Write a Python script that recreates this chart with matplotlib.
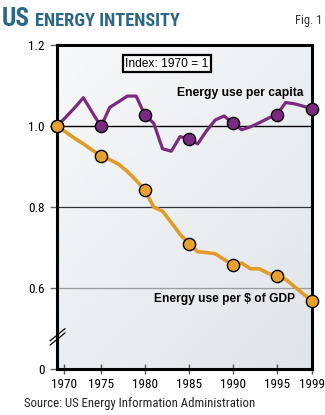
import os
import numpy as np
import matplotlib
matplotlib.use('Agg')
import matplotlib.pyplot as plt
from matplotlib import font_manager as fm

# data (index 1970 = 1)
years = list(range(1970, 2000))
per_capita = [1.000, 1.022, 1.045, 1.070, 1.034, 0.999, 1.046, 1.060, 1.074, 1.074,
              1.027, 1.007, 0.944, 0.938, 0.974, 0.968, 0.956, 0.988, 1.015, 1.025,
              1.007, 0.991, 0.998, 1.008, 1.019, 1.028, 1.058, 1.055, 1.049, 1.043]
per_gdp = [1.000, 0.985, 0.970, 0.956, 0.941, 0.926, 0.917, 0.906, 0.888, 0.866,
           0.842, 0.800, 0.790, 0.762, 0.733, 0.710, 0.690, 0.688, 0.685, 0.671,
           0.658, 0.662, 0.648, 0.648, 0.637, 0.629, 0.622, 0.604, 0.586, 0.569]
marker_years = [1970, 1975, 1980, 1985, 1990, 1995, 1999]
xtick_labels = ['1970', '1975', '1980', '1985', '1990', '1995', '1999']
ytick_values = [0.4, 0.6, 0.8, 1.0, 1.2]
ytick_labels = ['0', '0.6', '0.8', '1.0', '1.2']

purple = '#7B2A82'
orange = '#E29B27'
teal = '#2A6888'

# look for a narrow / condensed sans among installed files
fonts = fm.fontManager.ttflist
by_file = {os.path.basename(f.fname): f.fname for f in fonts}


def pick(files, fallback):
    for n in files:
        if n in by_file:
            return fm.FontProperties(fname=by_file[n])
    return fm.FontProperties(**fallback)


narrow = pick(['LiberationSansNarrow-Regular.ttf', 'RobotoCondensed-Regular.ttf',
               'NotoSans-Condensed.ttf', 'DejaVuSansCondensed.ttf'],
              dict(family='Liberation Sans'))
narrow_bold = pick(['LiberationSansNarrow-Bold.ttf', 'RobotoCondensed-Bold.ttf',
                    'NotoSans-CondensedBold.ttf', 'DejaVuSansCondensed-Bold.ttf'],
                   dict(family='Liberation Sans', weight='bold'))
bold = fm.FontProperties(family='Liberation Sans', weight='bold')
plain = fm.FontProperties(family='Liberation Sans')


def fp(base, size):
    p = base.copy()
    p.set_size(size)
    return p


fig = plt.figure(figsize=(3.25, 4.15), dpi=100)
ax = fig.add_axes([0.1754, 0.1101, 0.7846, 0.7815])
renderer = fig.canvas.get_renderer()


def fit_width(t, px):
    w = t.get_window_extent(renderer).width
    t.set_fontsize(t.get_fontsize() * px / w)


# soft grey panel gradient
gx, gy = np.meshgrid(np.linspace(0, 1, 64), np.linspace(0, 1, 64))
shade = 0.55 * gy + 0.45 * gx
c0 = np.array([0.970, 0.975, 0.980])
c1 = np.array([0.880, 0.898, 0.915])
img = c0 + (c1 - c0) * shade[..., None]
ax.imshow(img, extent=[0, 1, 0, 1], transform=ax.transAxes, aspect='auto',
          zorder=0, origin='upper')

ax.set_xlim(1970, 1999)
ax.set_ylim(0.4, 1.2)

ax.axhline(1.0, color='black', lw=1.0, zorder=1)
ax.axhline(0.8, color='#333333', lw=0.9, zorder=1)
ax.axhline(0.6, color='#9a9a9a', lw=0.9, zorder=1)

ax.plot(years, per_capita, color=purple, lw=2.3, zorder=3)
ax.plot(years, per_gdp, color=orange, lw=2.6, zorder=3)

mk_cap = [per_capita[years.index(y)] for y in marker_years]
mk_gdp = [per_gdp[years.index(y)] for y in marker_years]
ax.plot(marker_years, mk_cap, 'o', ms=8.8, mfc=purple, mec='black', mew=1.0,
        zorder=5, clip_on=False)
ax.plot(marker_years, mk_gdp, 'o', ms=8.8, mfc='#E8A22C', mec='black', mew=1.0,
        zorder=5, clip_on=False)

for s in ax.spines.values():
    s.set_linewidth(2.2)
    s.set_color('black')
    s.set_zorder(4)

ax.set_yticks(ytick_values)
ax.set_yticklabels(ytick_labels, fontproperties=fp(narrow, 9.5))
ax.tick_params(axis='y', direction='out', length=5, width=1, color='#666666', pad=4)

xt = [1970.8, 1975, 1980, 1985, 1990, 1995, 1999]
ax.set_xticks(xt)
ax.set_xticklabels(xtick_labels, fontproperties=fp(narrow, 9.5))
ax.tick_params(axis='x', direction='inout', length=7, width=1, color='#555555', pad=3)

# axis break marks
for dy in (0.0, 0.013):
    ax.plot([-0.027, 0.031], [0.075 + dy, 0.112 + dy], transform=ax.transAxes,
            color='black', lw=0.9, clip_on=False, zorder=6)

t = ax.text(1982.5, 1.154, 'Index: 1970 = 1', ha='center', va='center',
            fontproperties=fp(plain, 8.8), zorder=6,
            bbox=dict(boxstyle='square,pad=0.22', fc='white', ec='black', lw=1.6))
fit_width(t, 83)

t = ax.text(1998.0, 1.082, 'Energy use per capita', ha='right', va='center',
            fontproperties=fp(bold, 8), zorder=6)
fit_width(t, 126)
t = ax.text(1997.1, 0.573, 'Energy use per $ of GDP', ha='right', va='center',
            fontproperties=fp(bold, 8), zorder=6)
fit_width(t, 142)

t = fig.text(2 / 325, 1 - 26 / 415, 'US', ha='left', va='baseline',
             fontproperties=fp(narrow_bold, 20), color=teal)
fit_width(t, 28)
t = fig.text(35 / 325, 1 - 26 / 415, 'ENERGY INTENSITY', ha='left', va='baseline',
             fontproperties=fp(narrow_bold, 14), color=teal)
fit_width(t, 146)
fig.text(322 / 325, 1 - 24 / 415, 'Fig. 1', ha='right', va='baseline',
         fontproperties=fp(narrow, 9), color='#333333')
t = fig.text(24 / 325, 1 - 407 / 415, 'Source: US Energy Information Administration',
             ha='left', va='baseline', fontproperties=fp(narrow, 9.5), color='#222222')
fit_width(t, 231)

fig.savefig('out.png', dpi=100, facecolor='white')
